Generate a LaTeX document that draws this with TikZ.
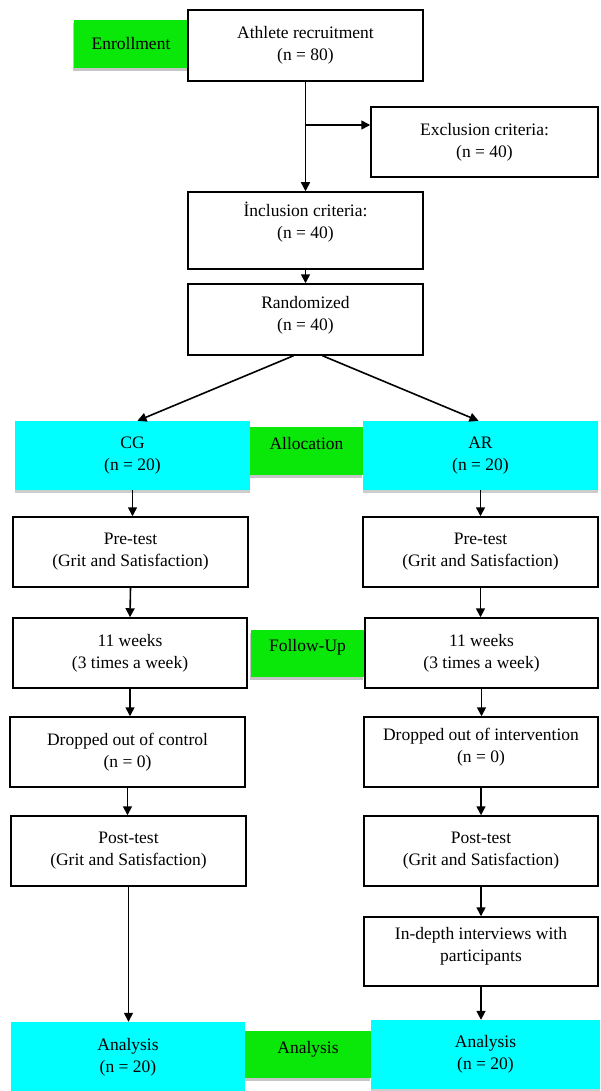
\documentclass[tikz,border=0pt]{standalone}
\usepackage{fontspec}
\setmainfont{Liberation Serif}
\usetikzlibrary{arrows.meta,shadows,calc}
\definecolor{lblgreen}{RGB}{10,232,10}
\definecolor{boxcyan}{RGB}{0,255,255}
\begin{document}
\begin{tikzpicture}[x=1pt,y=-1pt,
  every node/.style={font=\fontsize{17.5}{22}\selectfont, align=center, inner sep=2pt},
  wbox/.style={draw=black, line width=1.5pt, fill=white, rectangle},
  cbox/.style={fill=boxcyan, rectangle, drop shadow={shadow xshift=0pt, shadow yshift=-3pt, opacity=0.4}},
  gbox/.style={fill=lblgreen, rectangle, drop shadow={shadow xshift=-1pt, shadow yshift=-3pt, opacity=0.45}},
  sz/.style 2 args={minimum width=#1, minimum height=#2},
  arr/.style={draw=black, line width=1.6pt, -{Triangle[length=9pt,width=9pt]}}]
\useasboundingbox (0,0) rectangle (600,1091);
\fill[white] (0,0) rectangle (600,1091);
% label boxes
\node[gbox, sz={114}{48}] (enr) at (131,44) {Enrollment};
\node[gbox, sz={113}{48}, text depth=16pt] (alloc) at (306.5,451) {Allocation};
\node[gbox, sz={113}{47}, text depth=16pt] (fu) at (307.5,653.5) {Follow-Up};
\node[gbox, sz={126}{47}, text depth=14pt] (ang) at (308,1054.5) {Analysis};
% top part
\node[wbox, sz={235}{71}] (ath) at (305.5,45.5) {Athlete recruitment\\(n = 80)};
\node[wbox, sz={227}{70}] (exc) at (484.5,142) {Exclusion criteria:\\(n = 40)};
\node[wbox, sz={235}{77}, text depth=20pt] (inc) at (305.5,230.5) {İnclusion criteria:\\(n = 40)};
\node[wbox, sz={235}{71}, text depth=13pt] (rnd) at (305.5,319.5) {Randomized\\(n = 40)};
% groups
\node[cbox, sz={235}{69}] (cg) at (132.5,455.5) {CG\\(n = 20)};
\node[cbox, sz={235}{69}] (ar) at (480.5,455.5) {AR\\(n = 20)};
% left column
\node[wbox, sz={235}{70}] (pre1) at (130.5,552) {Pre-test\\(Grit and Satisfaction)};
\node[wbox, sz={234}{70}] (wk1) at (130,653) {11 weeks\\(3 times a week)};
\node[wbox, sz={235}{70}] (dr1) at (127.5,752) {Dropped out of control\\(n = 0)};
\node[wbox, sz={235}{70}] (po1) at (128.5,851) {Post-test\\(Grit and Satisfaction)};
\node[cbox, sz={234}{70}] (an1) at (128,1057) {Analysis\\(n = 20)};
% right column
\node[wbox, sz={235}{70}] (pre2) at (480.5,552) {Pre-test\\(Grit and Satisfaction)};
\node[wbox, sz={233}{70}] (wk2) at (481.5,653) {11 weeks\\(3 times a week)};
\node[wbox, sz={234}{70}, text depth=14pt] (dr2) at (481,752) {Dropped out of intervention\\(n = 0)};
\node[wbox, sz={234}{70}] (po2) at (481,851) {Post-test\\(Grit and Satisfaction)};
\node[wbox, sz={234}{69}, text depth=14pt] (idi) at (481,951.5) {In-depth interviews with\\participants};
\node[cbox, sz={229}{69}] (an2) at (485.5,1054.5) {Analysis\\(n = 20)};
% connectors
\draw[arr] (ath.south) -- (inc.north);
\coordinate (br) at (305.5,125);
\draw[arr] (br) -- (br -| exc.west);
\draw[arr] (inc.south) -- (rnd.north);
\draw[arr] ($(rnd.south)+(-12,0)$) -- ($(cg.north)+(5,0)$);
\draw[arr] ($(rnd.south)+(17,0)$) -- ($(ar.north)+(-2,0)$);
\draw[arr] (cg.south) -- (cg.south |- pre1.north);
\draw[arr] (pre1.south) -- (wk1.north);
\draw[arr] (wk1.south) -- (wk1.south |- dr1.north);
\draw[arr] (dr1.south) -- (dr1.south |- po1.north);
\draw[arr] (po1.south) -- (po1.south |- an1.north);
\draw[arr] (ar.south) -- (ar.south |- pre2.north);
\draw[arr] (pre2.south) -- (pre2.south |- wk2.north);
\draw[arr] (wk2.south) -- (wk2.south |- dr2.north);
\draw[arr] (dr2.south) -- (dr2.south |- po2.north);
\draw[arr] (po2.south) -- (po2.south |- idi.north);
\draw[arr] (idi.south) -- (idi.south |- an2.north);
\end{tikzpicture}
\end{document}
